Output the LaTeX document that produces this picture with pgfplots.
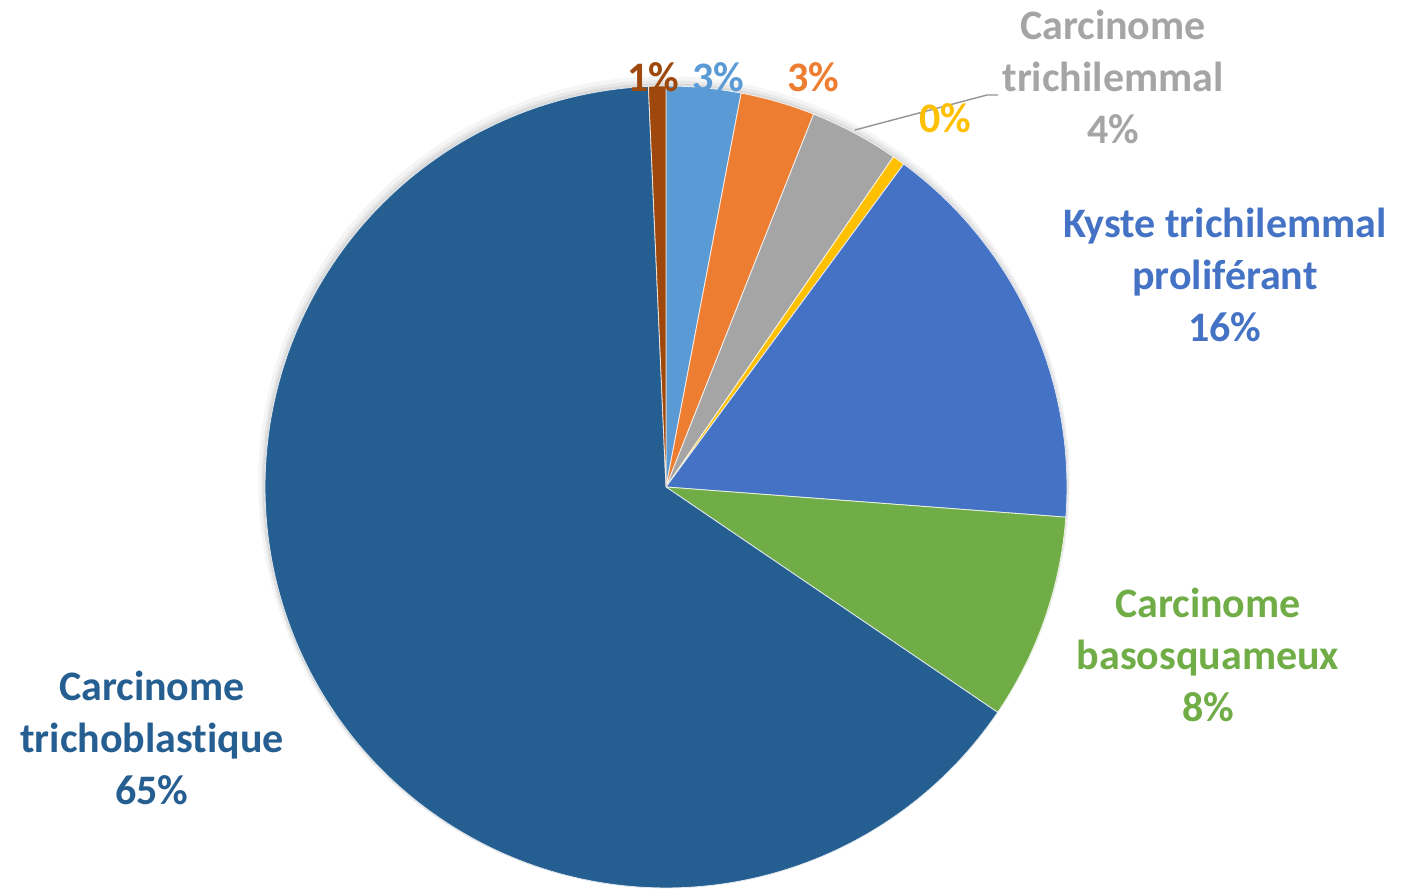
\documentclass[border=0pt]{standalone}
\usepackage{pgfplots}
\pgfplotsset{compat=1.18}
\usepackage{fontspec}
\setmainfont{Carlito}[Ligatures=NoCommon]
\definecolor{cDark}{HTML}{255E91}
\definecolor{cLight}{HTML}{5B9BD5}
\definecolor{cOrange}{HTML}{ED7D31}
\definecolor{cGray}{HTML}{A5A5A5}
\definecolor{cYellow}{HTML}{FFC000}
\definecolor{cBlue}{HTML}{4472C4}
\definecolor{cGreen}{HTML}{70AD47}
\definecolor{cBrown}{HTML}{9E480E}
\tikzset{lbl/.style={font=\bfseries\fontsize{21}{26}\selectfont, align=center}}
% shares (percent), clockwise from 12 o'clock:
% light blue 3.0, orange 3.0, gray 3.6, yellow 0.5, blue 16.1, green 8.3, dark blue 64.8, brown 0.7
\begin{document}
\begin{tikzpicture}
\begin{axis}[
  x=0.5pt, y=0.5pt,
  xmin=0, xmax=1405, ymin=0, ymax=888,
  hide axis, clip=false,
  samples=80, variable=\t,
]
% bounding box
\addplot[draw=none, forget plot] coordinates {(0,0) (1405,888)};
% soft shadow
\addplot[draw=none, fill=black, fill opacity=0.04, domain=0:360] ({664+406*cos(t)},{406+406*sin(t)}) -- cycle;
\addplot[draw=none, fill=black, fill opacity=0.05, domain=0:360] ({665+404*cos(t)},{404+404*sin(t)}) -- cycle;
\addplot[draw=none, fill=black, fill opacity=0.06, domain=0:360] ({665+402.5*cos(t)},{402.5+402.5*sin(t)}) -- cycle;
% slices: angle = 90 - 3.6*cumulative percent
\addplot[fill=cLight, draw=white!85!cLight, line width=0.4pt, domain={90-3.6*0}:{90-3.6*3.0}] ({666+401*cos(t)},{401+401*sin(t)}) -- (axis cs:666,401) -- cycle;
\addplot[fill=cOrange, draw=white!85!cOrange, line width=0.4pt, domain={90-3.6*3.0}:{90-3.6*6.0}] ({666+401*cos(t)},{401+401*sin(t)}) -- (axis cs:666,401) -- cycle;
\addplot[fill=cGray, draw=white!85!cGray, line width=0.4pt, domain={90-3.6*6.0}:{90-3.6*9.6}] ({666+401*cos(t)},{401+401*sin(t)}) -- (axis cs:666,401) -- cycle;
\addplot[fill=cYellow, draw=white!85!cYellow, line width=0.4pt, domain={90-3.6*9.6}:{90-3.6*10.1}] ({666+401*cos(t)},{401+401*sin(t)}) -- (axis cs:666,401) -- cycle;
\addplot[fill=cBlue, draw=white!85!cBlue, line width=0.4pt, domain={90-3.6*10.1}:{90-3.6*26.2}] ({666+401*cos(t)},{401+401*sin(t)}) -- (axis cs:666,401) -- cycle;
\addplot[fill=cGreen, draw=white!85!cGreen, line width=0.4pt, domain={90-3.6*26.2}:{90-3.6*34.5}] ({666+401*cos(t)},{401+401*sin(t)}) -- (axis cs:666,401) -- cycle;
\addplot[fill=cDark, draw=white!85!cDark, line width=0.4pt, samples=200, domain={90-3.6*34.5}:{90-3.6*99.3}] ({666+401*cos(t)},{401+401*sin(t)}) -- (axis cs:666,401) -- cycle;
\addplot[fill=cBrown, draw=white!85!cBrown, line width=0.4pt, domain={90-3.6*99.3}:{90-3.6*100}] ({666+401*cos(t)},{401+401*sin(t)}) -- (axis cs:666,401) -- cycle;
% leader line
\addplot[cGray!90!black, line width=0.7pt] coordinates {(855,758) (987,793) (998,793)};
% labels
\node[lbl, text=cBrown] at (axis cs:653,811) {1\%};
\node[lbl, text=cLight] at (axis cs:718,811) {3\%};
\node[lbl, text=cOrange] at (axis cs:813,811) {3\%};
\node[lbl, text=cYellow] at (axis cs:945,770) {0\%};
\node[lbl, text=cGray] at (axis cs:1113,811) {Carcinome\\trichilemmal\\4\%};
\node[lbl, text=cBlue] at (axis cs:1225,613) {Kyste trichilemmal\\proliférant\\16\%};
\node[lbl, text=cGreen] at (axis cs:1208,233) {Carcinome\\basosquameux\\8\%};
\node[lbl, text=cDark] at (axis cs:152,150) {Carcinome\\trichoblastique\\65\%};
\end{axis}
\end{tikzpicture}
\end{document}
